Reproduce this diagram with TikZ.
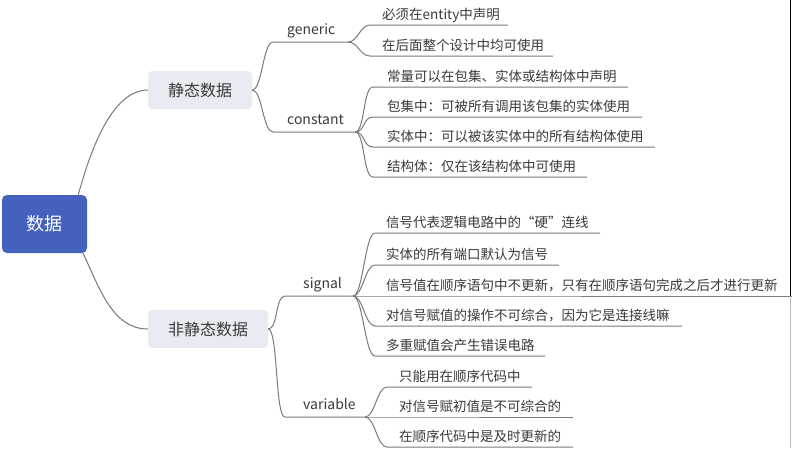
\documentclass[tikz,border=0pt]{standalone}
\usepackage{fontspec}
\setmainfont{Noto Sans CJK SC}
\definecolor{rootblue}{HTML}{4361BD}
\definecolor{subfill}{HTML}{E9EBF3}
\definecolor{txt}{HTML}{3A3A3A}
\definecolor{conn}{HTML}{7A7A7A}
\newcommand\mmleaf[7]{%
  \coordinate (#1a) at (#4,#3);
  \coordinate (#1b) at (#5,#3);
  \node[leaf] (#1) at (#6,#3-6) {#7};
  \draw[link] (#2) to[out=0,in=180,distance=10pt] (#1a) -- (#1b);
}
\begin{document}
\begin{tikzpicture}[x=1pt,y=-1pt,
  rootbox/.style={fill=rootblue, rounded corners=5pt, minimum width=85pt, minimum height=58pt, text=white, font=\fontsize{18}{20}\selectfont, inner sep=0pt},
  subbox/.style={fill=subfill, rounded corners=4pt, minimum height=38pt, text=txt, font=\fontsize{16}{18}\selectfont, inner sep=0pt},
  lbl/.style={anchor=base west, inner sep=0pt, text=txt, font=\fontsize{14}{16}\selectfont},
  leaf/.style={anchor=base west, inner sep=0pt, text=txt, font=\fontsize{13.5}{16}\selectfont},
  link/.style={draw=conn, line width=1pt}]
\fill[white] (0,0) rectangle (792,448);
\useasboundingbox (0,0) rectangle (792,448);

% main nodes
\node[rootbox] (r) at (44.5,224) {数据};
\node[subbox, minimum width=104pt] (s) at (200,90) {静态数据};
\node[subbox, minimum width=120pt] (n) at (208,329) {非静态数据};

\coordinate (r1) at (78,196);
\coordinate (r2) at (83,253);
\draw[link] (r1) to[out=75,in=180,out distance=50pt,in distance=35pt] (s.west);
\draw[link] (r2) to[out=-65,in=180,out distance=40pt,in distance=35pt] (n.west);

% second level labels
\coordinate (gena) at (273,42); \coordinate (genb) at (348,42);
\node[lbl] (gen) at (287,34) {generic};
\draw[link] (s.east) to[out=0,in=180,distance=10pt] (gena) -- (genb);

\coordinate (cona) at (273,132); \coordinate (conb) at (355,132);
\node[lbl] (con) at (287,124) {constant};
\draw[link] (s.east) to[out=0,in=180,distance=10pt] (cona) -- (conb);

\coordinate (siga) at (285,296); \coordinate (sigb) at (353,296);
\node[lbl] (sig) at (303,288) {signal};
\draw[link] (n.east) to[out=0,in=180,distance=10pt] (siga) -- (sigb);

\coordinate (vara) at (285,417); \coordinate (varb) at (365,417);
\node[lbl] (var) at (303,409) {variable};
\draw[link] (n.east) to[out=0,in=180,distance=10pt] (vara) -- (varb);

% leaves
\mmleaf{ga}{genb}{25}{370}{508}{382}{必须在entity中声明}
\mmleaf{gb}{genb}{56}{370}{553}{382}{在后面整个设计中均可使用}

\mmleaf{ca}{conb}{87}{373}{628}{387}{常量可以在包集、实体或结构体中声明}
\mmleaf{cb}{conb}{117}{373}{642}{387}{包集中：可被所有调用该包集的实体使用}
\mmleaf{cc}{conb}{147}{373}{655}{387}{实体中：可以被该实体中的所有结构体使用}
\mmleaf{cd}{conb}{177}{373}{587}{387}{结构体：仅在该结构体中可使用}

\mmleaf{sa}{sigb}{233}{375}{600}{386}{信号代表逻辑电路中的“硬”连线}
\mmleaf{sb}{sigb}{265}{375}{559}{386}{实体的所有端口默认为信号}
\mmleaf{sc}{sigb}{296}{375}{792}{386}{信号值在顺序语句中不更新，只有在顺序语句完成之后才进行更新}
\mmleaf{sd}{sigb}{326}{375}{682}{386}{对信号赋值的操作不可综合，因为它是连接线嘛}
\mmleaf{se}{sigb}{356}{375}{545}{386}{多重赋值会产生错误电路}

\mmleaf{va}{varb}{387}{387}{532}{399}{只能用在顺序代码中}
\mmleaf{vb}{varb}{417}{387}{573}{399}{对信号赋初值是不可综合的}
\mmleaf{vc}{varb}{447}{387}{573}{399}{在顺序代码中是及时更新的}

% right border of the capture
\draw[black, line width=1.2pt] (790.5,0) -- (790.5,296);
\draw[black!25, line width=1pt] (790.5,296) -- (790.5,448);
\end{tikzpicture}
\end{document}
